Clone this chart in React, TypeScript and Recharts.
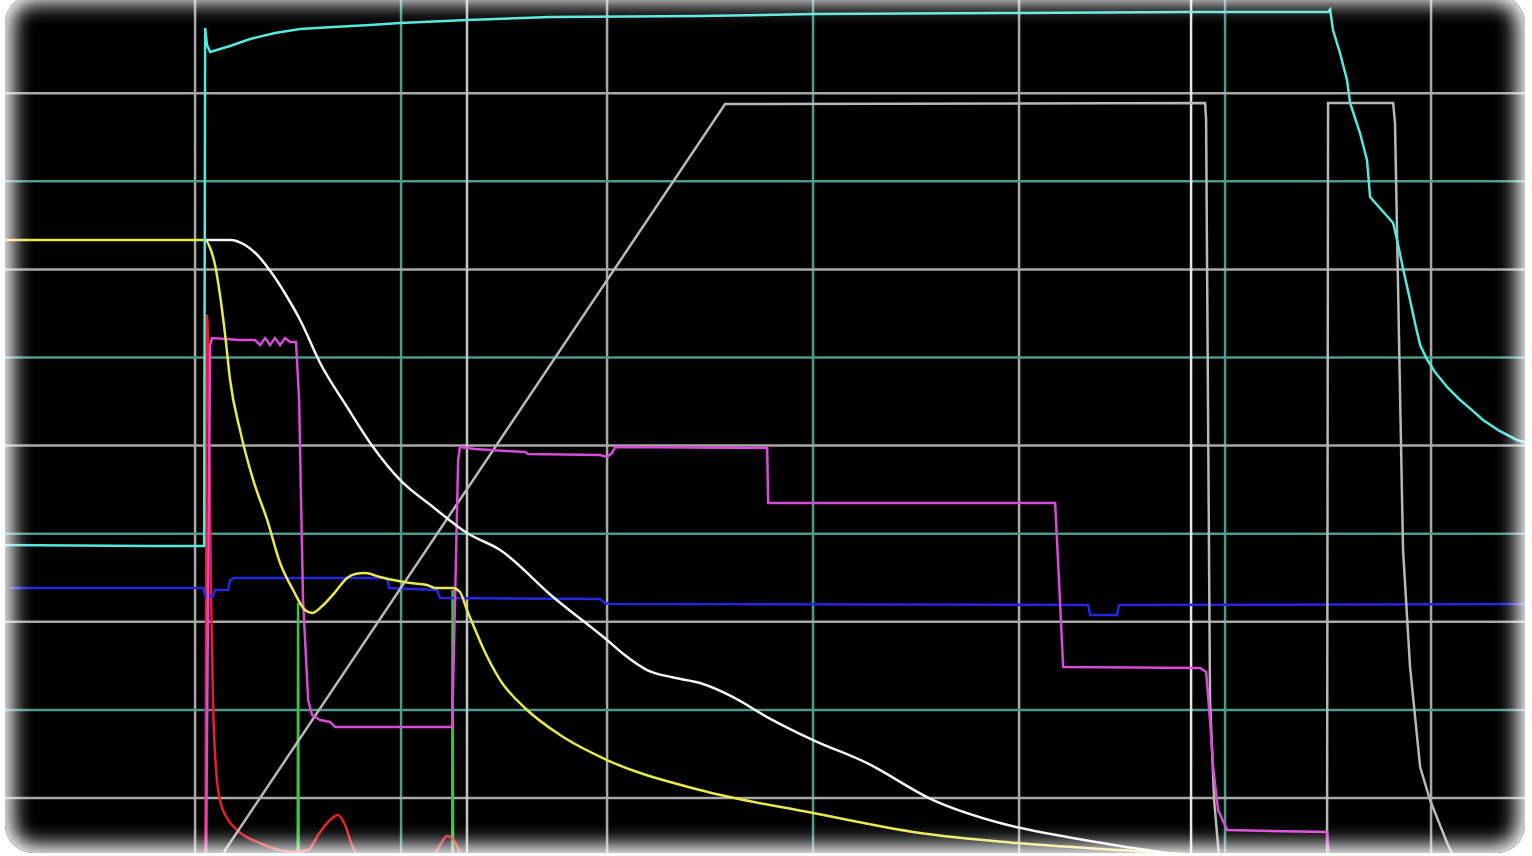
import React from 'react';
import { LineChart, Line, XAxis, YAxis, ReferenceLine } from 'recharts';

// scope capture, units are screen divisions (t = horizontal div, v = vertical div)
type Pt = [number, number];

const gridX = [0, 1, 2, 3, 4, 5, 6];
const gridY = [0, 1, 2, 3, 4, 5, 6, 7, 8];
const cursorX = [1.32, 4.835];

const cyanTrace: Pt[] = [
    [-0.947, 2.872], [-0.218, 2.86], [0.044, 2.86], [0.049, 8.74], [0.058, 8.547], [0.073, 8.468],
    [0.17, 8.536], [0.267, 8.615], [0.388, 8.683], [0.51, 8.729], [0.67, 8.751], [0.85, 8.774],
    [0.995, 8.797], [1.32, 8.831], [1.723, 8.865], [2.451, 8.876], [3.0, 8.899], [3.908, 8.91],
    [4.83, 8.922], [5.5, 8.922], [5.51, 8.95], [5.524, 8.717], [5.558, 8.456], [5.592, 8.15],
    [5.607, 7.889], [5.655, 7.548], [5.689, 7.242], [5.704, 6.822], [5.816, 6.527], [5.835, 6.334],
    [5.865, 6.0], [5.898, 5.653], [5.925, 5.36], [5.947, 5.142], [5.98, 4.98], [6.019, 4.835],
    [6.08, 4.66], [6.141, 4.518], [6.2, 4.4], [6.252, 4.291], [6.33, 4.17], [6.417, 4.064],
    [6.49, 4.018],
];

const yellowTrace: Pt[] = [
    [-0.947, 6.334], [0.049, 6.334], [0.073, 6.243], [0.097, 6.05], [0.121, 5.709], [0.146, 5.255],
    [0.17, 4.745], [0.218, 4.177], [0.282, 3.61], [0.35, 3.156], [0.413, 2.667], [0.476, 2.361],
    [0.534, 2.134], [0.568, 2.1], [0.617, 2.179], [0.68, 2.338], [0.738, 2.497], [0.777, 2.543],
    [0.825, 2.554], [0.898, 2.508], [0.961, 2.474], [1.044, 2.44], [1.126, 2.418], [1.165, 2.384],
    [1.252, 2.384], [1.286, 2.338], [1.32, 2.134], [1.35, 1.964], [1.398, 1.703], [1.481, 1.339],
    [1.612, 0.999], [1.772, 0.715], [2.0, 0.431], [2.451, 0.091], [3.0, -0.17], [3.519, -0.397],
    [3.99, -0.511], [4.636, -0.613], [5.121, -0.681],
];

const whiteTrace: Pt[] = [
    [0.049, 6.334], [0.17, 6.334], [0.243, 6.277], [0.316, 6.129], [0.379, 5.936], [0.447, 5.687],
    [0.51, 5.426], [0.607, 4.938], [0.738, 4.438], [0.864, 3.984], [0.995, 3.61], [1.155, 3.303],
    [1.32, 3.008], [1.481, 2.815], [1.738, 2.282], [2.0, 1.793], [2.087, 1.62], [2.194, 1.453],
    [2.316, 1.37], [2.451, 1.305], [2.612, 1.146], [2.777, 0.919], [3.0, 0.658], [3.262, 0.397],
    [3.583, -0.023], [3.908, -0.284], [4.233, -0.443], [4.553, -0.568], [4.879, -0.681],
];

const magentaTrace: Pt[] = [
    [0, -0.817], [0.053, -0.817], [0.063, 2.247], [0.073, 5.142], [0.083, 5.221], [0.218, 5.199],
    [0.291, 5.199], [0.316, 5.142], [0.34, 5.221], [0.364, 5.142], [0.388, 5.221], [0.413, 5.142],
    [0.437, 5.221], [0.461, 5.176], [0.49, 5.176], [0.505, 4.518], [0.524, 2.247], [0.549, 1.112],
    [0.568, 0.942], [0.607, 0.885], [0.655, 0.863], [0.68, 0.806], [1.248, 0.806], [1.262, 2.247],
    [1.277, 3.837], [1.286, 3.984], [1.359, 3.961], [1.602, 3.927], [1.617, 3.905], [1.966, 3.893],
    [2.0, 3.871], [2.024, 3.916], [2.039, 3.984], [2.777, 3.973], [2.782, 3.348], [4.175, 3.348],
    [4.189, 2.701], [4.214, 1.487], [4.879, 1.476], [4.908, 1.43], [4.927, 0.885], [4.942, 0.352],
    [4.966, -0.136], [5.01, -0.363], [5.495, -0.386], [5.51, -0.817], [6.49, -0.817],
];

const redTrace: Pt[] = [
    [0, -0.817], [0.049, -0.817], [0.058, 5.482], [0.068, 4.291], [0.078, 2.247], [0.087, 1.112],
    [0.102, 0.318], [0.121, -0.023], [0.155, -0.227], [0.204, -0.363], [0.316, -0.511], [0.476, -0.613],
    [0.549, -0.59], [0.597, -0.42], [0.655, -0.25], [0.694, -0.193], [0.728, -0.306], [0.762, -0.533],
    [0.801, -0.681], [1.141, -0.704], [1.189, -0.533], [1.223, -0.431], [1.262, -0.499], [1.296, -0.704],
];

const blueTrace: Pt[] = [
    [-0.898, 2.384], [0.039, 2.384], [0.049, 2.293], [0.087, 2.293], [0.097, 2.361], [0.16, 2.361],
    [0.17, 2.474], [0.189, 2.497], [0.932, 2.497], [0.942, 2.384], [1.175, 2.361], [1.189, 2.27],
    [1.966, 2.259], [1.99, 2.213], [2.015, 2.202], [4.335, 2.191], [4.345, 2.077], [4.476, 2.077],
    [4.485, 2.191], [6.49, 2.202],
];

const greenTrace: Pt[] = [
    [0.461, -0.817], [0.498, -0.817], [0.5, 2.213], [0.503, -0.817], [1.214, -0.817], [1.248, -0.817],
    [1.25, 2.361], [1.253, -0.817], [1.4, -0.817],
];

const grayTrace: Pt[] = [
    [0.049, -1.158], [0.146, -0.59], [2.573, 7.877], [4.903, 7.889], [4.908, 7.696], [4.917, 4.518],
    [4.927, 1.112], [4.947, -0.023], [4.976, -0.817], [5.495, -0.817], [5.5, 7.889], [5.816, 7.889],
    [5.825, 7.662], [5.85, 4.518], [5.864, 2.815], [5.898, 1.487], [5.947, 0.352], [5.995, -0.023],
    [6.078, -0.511], [6.141, -0.817],
];

const toRows = (pts: Pt[]) => pts.map(([t, v]) => ({ t, v }));

const traces = [
    { name: 'green', pts: greenTrace, color: '#3cc43c', curve: 'linear' },
    { name: 'red', pts: redTrace, color: '#e61e2e', curve: 'monotone' },
    { name: 'blue', pts: blueTrace, color: '#2626e0', curve: 'linear' },
    { name: 'gray', pts: grayTrace, color: '#b8b8b8', curve: 'linear' },
    { name: 'magenta', pts: magentaTrace, color: '#d84ad8', curve: 'linear' },
    { name: 'yellow', pts: yellowTrace, color: '#e8e850', curve: 'monotone' },
    { name: 'white', pts: whiteTrace, color: '#f4f4f4', curve: 'monotone' },
    { name: 'cyan', pts: cyanTrace, color: '#55e8dc', curve: 'linear' },
];

const W = 1532;
const H = 856;

const App: React.FC = () => {
    return (
        <div style={{ position: 'fixed', left: 0, top: 0, width: W, height: H, background: '#000', overflow: 'hidden' }}>
            <LineChart width={W} height={H} margin={{ top: 0, right: 0, bottom: 0, left: 0 }}>
                <XAxis type="number" dataKey="t" domain={[-0.947, 6.49]} hide allowDataOverflow />
                <YAxis type="number" dataKey="v" domain={[-0.658, 9.058]} hide allowDataOverflow />
                {gridX.map(k => (
                    <ReferenceLine key={'gx' + k} x={k} stroke={k % 2 === 0 ? '#a8a8a8' : '#4f9a8a'} strokeWidth={2.5} />
                ))}
                {gridY.map(k => (
                    <ReferenceLine key={'gy' + k} y={k} stroke={k % 2 === 0 ? '#a8a8a8' : '#4f9a8a'} strokeWidth={2.5} />
                ))}
                {cursorX.map((c, i) => (
                    <ReferenceLine key={'c' + i} x={c} stroke={i === 0 ? '#c4c4c4' : '#e6e6e6'} strokeWidth={2.5} />
                ))}
                {traces.map(tr => (
                    <Line
                        key={tr.name}
                        data={toRows(tr.pts)}
                        dataKey="v"
                        type={tr.curve as 'linear' | 'monotone'}
                        stroke={tr.color}
                        strokeWidth={2.5}
                        dot={false}
                        activeDot={false}
                        isAnimationActive={false}
                    />
                ))}
            </LineChart>
            {/* white blurred frame around the screen */}
            <div style={{
                position: 'absolute', left: 5, top: -5, width: 1520, height: 858,
                borderRadius: 28, pointerEvents: 'none',
                boxShadow: 'inset 0 0 20px 8px #fff, 0 0 0 80px #fff',
            }} />
        </div>
    );
};

export default App;
